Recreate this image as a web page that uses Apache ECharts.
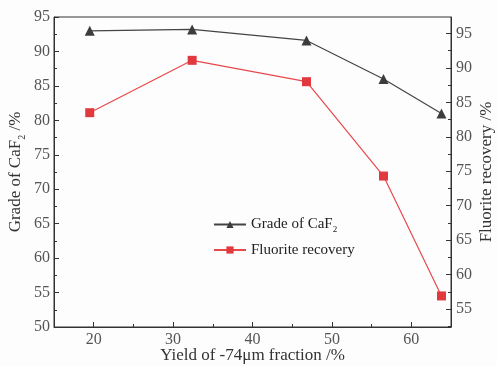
<!DOCTYPE html>
<html>
<head>
<meta charset="utf-8">
<script src="https://cdn.jsdelivr.net/npm/echarts@6/dist/echarts.min.js"></script>
<style>
  html, body { margin: 0; padding: 0; background: #fff; }
  #chart { width: 497px; height: 366px; }
</style>
</head>
<body>
<div id="chart"></div>
<script>
// yield of -74um fraction (%)
var yieldX = [19.5, 32.4, 46.8, 56.5, 63.8]
// grade of CaF2 (%), left axis
var gradeCaF2 = [93.0, 93.2, 91.6, 86.0, 81.0]
// fluorite recovery (%), right axis
var recovery = [83.5, 91.1, 88.0, 74.3, 56.9]

var xLabels = [20, 30, 40, 50, 60]
var xMinor = [25, 35, 45, 55]
var rightLabels = [55, 60, 65, 70, 75, 80, 85, 90, 95]
var rightMinor = [52.5, 57.5, 62.5, 67.5, 72.5, 77.5, 82.5, 87.5, 92.5, 97.5]

var font = 'Liberation Serif'
var grey = '#555'
var axisCol = '#333'

function pairs (xs, ys) {
  return xs.map(function (x, i) { return [x, ys[i]] })
}

var nameStyle = {
  fontFamily: font, fontSize: 17, color: '#333',
  rich: { s: { fontSize: 10, fontFamily: font, color: '#333', verticalAlign: 'bottom', lineHeight: 22 } }
}

var chart = echarts.init(document.getElementById('chart'))
chart.setOption({
  backgroundColor: '#fdfdfd',
  animation: false,
  grid: {
    left: 54, right: 46, top: 17, bottom: 39,
    outerBoundsMode: 'none',
    show: true, borderColor: axisCol, borderWidth: 1, backgroundColor: 'transparent'
  },
  legend: {
    orient: 'vertical',
    left: 208,
    top: 212,
    itemWidth: 32,
    itemHeight: 9,
    itemGap: 8,
    textStyle: { fontFamily: font, fontSize: 15, color: '#222', rich: { s: { fontSize: 9, fontFamily: font, color: '#222', verticalAlign: 'bottom', lineHeight: 20 } } },
    formatter: function (n) {
      return n === 'Grade of CaF2' ? 'Grade of CaF{s|2}' : n
    },
    data: ['Grade of CaF2', 'Fluorite recovery']
  },
  xAxis: [{
    type: 'value',
    min: 15,
    max: 65,
    name: 'Yield of -74μm fraction /%',
    nameLocation: 'middle',
    nameGap: 20,
    nameMoveOverlap: false,
    nameTextStyle: { fontFamily: font, fontSize: 17, color: '#333' },
    axisLine: { lineStyle: { color: axisCol } },
    axisTick: { inside: true, length: 5, customValues: xLabels, lineStyle: { color: axisCol } },
    axisLabel: { customValues: xLabels, fontFamily: font, fontSize: 16, color: grey, margin: 5 },
    splitLine: { show: false }
  }, {
    type: 'value',
    min: 15,
    max: 65,
    position: 'bottom',
    axisLine: { show: false },
    axisTick: { inside: true, length: 3, customValues: xMinor, lineStyle: { color: axisCol } },
    axisLabel: { show: false },
    splitLine: { show: false }
  }],
  yAxis: [{
    type: 'value',
    min: 50,
    max: 95,
    interval: 5,
    name: 'Grade of CaF{s|2} /%',
    nameLocation: 'middle',
    nameGap: 27,
    nameMoveOverlap: false,
    nameTextStyle: nameStyle,
    axisLine: { show: true, lineStyle: { color: axisCol } },
    axisTick: { inside: true, length: 5, lineStyle: { color: axisCol } },
    minorTick: { show: true, splitNumber: 2, length: 3, lineStyle: { color: axisCol } },
    axisLabel: { fontFamily: font, fontSize: 16, color: grey, margin: 4 },
    splitLine: { show: false }
  }, {
    type: 'value',
    min: 52.39,
    max: 97.39,
    position: 'right',
    name: 'Fluorite recovery /%',
    nameLocation: 'middle',
    nameGap: 27,
    nameRotate: 90,
    nameMoveOverlap: false,
    nameTextStyle: { fontFamily: font, fontSize: 17, color: '#333' },
    axisLine: { show: true, lineStyle: { color: axisCol } },
    axisTick: { inside: true, length: 5, customValues: rightLabels, lineStyle: { color: axisCol } },
    axisLabel: { customValues: rightLabels, fontFamily: font, fontSize: 16, color: grey, margin: 5 },
    splitLine: { show: false }
  }, {
    type: 'value',
    min: 52.39,
    max: 97.39,
    position: 'right',
    axisLine: { show: false },
    axisTick: { inside: true, length: 3, customValues: rightMinor, lineStyle: { color: axisCol } },
    axisLabel: { show: false },
    splitLine: { show: false }
  }],
  series: [{
    name: 'Grade of CaF2',
    type: 'line',
    xAxisIndex: 0,
    yAxisIndex: 0,
    data: pairs(yieldX, gradeCaF2),
    symbol: 'triangle',
    symbolSize: 10,
    itemStyle: { color: '#3c3c3c' },
    lineStyle: { color: '#444', width: 1.2 }
  }, {
    name: 'Fluorite recovery',
    type: 'line',
    xAxisIndex: 0,
    yAxisIndex: 1,
    data: pairs(yieldX, recovery),
    symbol: 'rect',
    symbolSize: 9,
    itemStyle: { color: '#e03a3e' },
    lineStyle: { color: '#e8484c', width: 1.2 }
  }]
})
</script>
</body>
</html>
